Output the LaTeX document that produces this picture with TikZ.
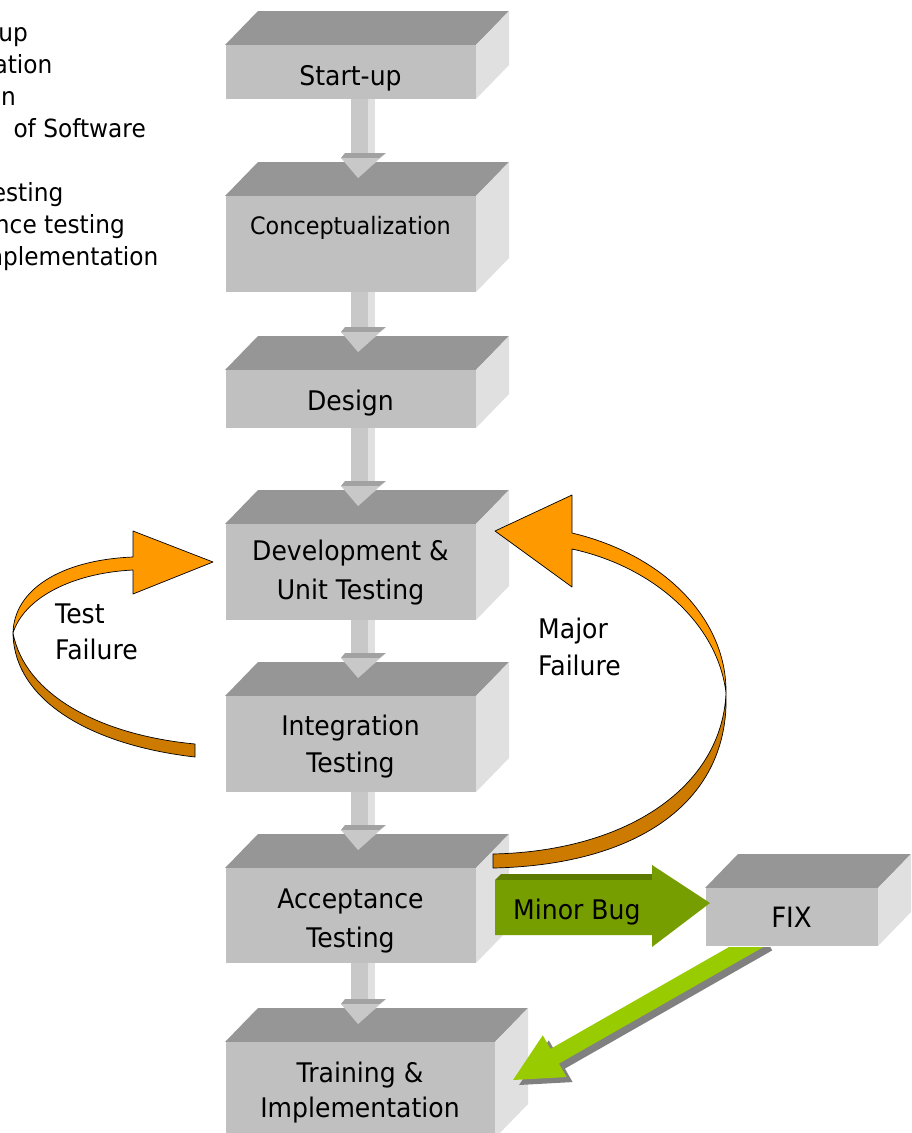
\documentclass[tikz,border=0pt]{standalone}
\usepackage{fontspec}
\setmainfont{DejaVu Sans}[FakeStretch=0.93]
\usetikzlibrary{calc}
\definecolor{topgray}{HTML}{969696}
\definecolor{frontgray}{HTML}{C0C0C0}
\definecolor{sidegray}{HTML}{E0E0E0}
\definecolor{shaftgray}{HTML}{C8C8C8}
\definecolor{bandgray}{HTML}{A2A2A2}
\definecolor{orangeF}{HTML}{FF9900}
\definecolor{orangeB}{HTML}{CC7A00}
\definecolor{greenD}{HTML}{779E00}
\definecolor{greenT}{HTML}{5C7A00}
\definecolor{greenL}{HTML}{99CC00}
\definecolor{shadowgray}{HTML}{808080}
\tikzset{
  frontbox/.style={fill=frontgray, draw=none, inner sep=0pt, outer sep=0pt},
  lbl/.style={font=\fontsize{27}{32}\selectfont, inner sep=0pt, anchor=base, text=black},
  smalllbl/.style={font=\fontsize{24}{30}\selectfont, inner sep=0pt, anchor=base, text=black},
  listtxt/.style={font=\fontsize{25}{30}\selectfont, inner sep=0pt, anchor=base east, text=black},
  ribbon/.style={draw=black, line width=0.7pt, line join=round},
}
\newcommand{\threedbox}[5]{%
  \fill[topgray] (#2,#3) -- ++(33,-34) -- ++(#4,0) -- ++(-33,34) -- cycle;
  \fill[sidegray] ({#2+#4},#3) -- ++(33,-34) -- ++(0,#5) -- ++(-33,34) -- cycle;
  \node[frontbox, minimum width=#4pt, minimum height=#5pt, anchor=north west] (#1) at (#2,#3) {};
  \draw[white, line width=0.8pt] (#1.north west) -- (#1.south west) -- (#1.south east);
}
\newcommand{\gconn}[2]{%
  \coordinate (h) at (#1.south |- #2.north);
  \fill[shaftgray] ($(#1.south)+(0.5,0)$) rectangle ($(h)+(17.5,-40)$);
  \fill[sidegray] ($(#1.south)+(17.5,0)$) rectangle ($(h)+(24.5,-40)$);
  \fill[bandgray] ($(h)+(-9.5,-38)$) -- ($(h)+(-5.5,-43)$) -- ($(h)+(35.5,-43)$) -- ($(h)+(29.5,-38)$) -- cycle;
  \fill[sidegray] ($(h)+(29.5,-38)$) -- ($(h)+(35.5,-43)$) -- ($(h)+(7.5,-18)$) -- cycle;
  \fill[shaftgray] ($(h)+(-9.5,-38)$) -- ($(h)+(29.5,-38)$) -- ($(h)+(7.5,-18)$) -- cycle;
}
\newcommand{\fatarrow}[3]{%
  \coordinate (fB) at ($(#2)!48pt!(#1)$);
  \fill[#3] ($(#1)!8.5pt!90:(#2)$) -- ($(fB)!8.5pt!90:(#2)$) -- ($(fB)!24pt!90:(#2)$) -- (#2)
    -- ($(fB)!24pt!-90:(#2)$) -- ($(fB)!8.5pt!-90:(#2)$) -- ($(#1)!8.5pt!-90:(#2)$) -- cycle;
}
\begin{document}
\begin{tikzpicture}[x=1pt,y=-1pt]
\useasboundingbox (0,0) rectangle (911,1133);
\fill[white] (0,0) rectangle (911,1133);

% clipped list at top left
\node[listtxt] (l1) at (28,41.5) {up};
\node[listtxt] (l2) at (52.5,73.5) {ation};
\node[listtxt] (l3) at (16,105.5) {gn};
\node[listtxt] (l4) at (146,137.5) {of Software};
\node[listtxt] (l5) at (63.5,201.5) {esting};
\node[listtxt] (l6) at (125,233.5) {nce testing};
\node[listtxt] (l7) at (158.5,265.5) {nplementation};

% boxes
\threedbox{start}{225}{45}{251}{54}
\threedbox{concept}{225}{196}{251}{96}
\threedbox{design}{225}{370}{251}{58}
\threedbox{dev}{225}{524}{251}{96}
\threedbox{integ}{225}{696}{251}{96}
\threedbox{accept}{225}{868}{251}{95}
\threedbox{train}{225}{1042}{270}{96}

% gray connectors
\gconn{start}{concept}
\gconn{concept}{design}
\gconn{design}{dev}
\gconn{dev}{integ}
\gconn{integ}{accept}
\gconn{accept}{train}

% green diagonal arrow FIX -> Training
\coordinate (gS) at (762,938);
\coordinate (gT) at (513,1080);
\coordinate (gS2) at (768,943);
\coordinate (gT2) at (519,1085);
\fatarrow{gS2}{gT2}{shadowgray}
\fatarrow{gS}{gT}{greenL}

% FIX box
\threedbox{fix}{705}{888}{173}{58}

% box labels
\node[lbl] (t1) at (350.5,85) {Start-up};
\node[smalllbl] (t2) at (350.5,234) {Conceptualization};
\node[lbl] (t3) at (350.5,410) {Design};
\node[lbl] (t4a) at (350.5,560) {Development \&};
\node[lbl] (t4b) at (350.5,599) {Unit Testing};
\node[lbl] (t5a) at (350.5,735) {Integration};
\node[lbl] (t5b) at (350.5,772) {Testing};
\node[lbl] (t6a) at (350.5,908) {Acceptance};
\node[lbl] (t6b) at (350.5,947) {Testing};
\node[lbl] (t7a) at (360,1082) {Training \&};
\node[lbl] (t7b) at (360,1117) {Implementation};
\node[lbl, font=\fontsize{28}{32}\selectfont] (t8) at (791.5,927) {FIX};

% Test Failure ribbon (Integration -> Development)
\filldraw[ribbon, fill=orangeB] (13,633) .. controls (14,700) and (90,745) .. (195,757)
  -- (195,744) .. controls (100,735) and (25,695) .. (13,633) -- cycle;
\filldraw[ribbon, fill=orangeF] (13,633) .. controls (14,590) and (60,560) .. (133,557)
  -- (133,531) -- (213,562) -- (133,594) -- (133,570)
  .. controls (72,573) and (24,598) .. (13,633) -- cycle;
\node[lbl, anchor=base west] (tf1) at (55,623) {Test};
\node[lbl, anchor=base west] (tf2) at (55,659) {Failure};

% Major Failure ribbon (Acceptance -> Development)
\filldraw[ribbon, fill=orangeB] (726,693) .. controls (730,800) and (640,865) .. (493,868)
  -- (493,854) .. controls (630,851) and (722,785) .. (726,693) -- cycle;
\filldraw[ribbon, fill=orangeF] (495,531) -- (572,495) -- (572,533)
  .. controls (665,555) and (727,620) .. (726,693)
  .. controls (718,625) and (655,567) .. (572,549) -- (572,587) -- cycle;
\node[lbl, anchor=base west] (mf1) at (538,638) {Major};
\node[lbl, anchor=base west] (mf2) at (538,675) {Failure};

% Minor Bug arrow (Acceptance -> FIX)
\fill[greenT] (495,880) -- (501,874) -- (652,874) -- (652,880) -- cycle;
\fill[greenD] (495,880) -- (652,880) -- (652,865) -- (710,903) -- (652,947) -- (652,935) -- (495,935) -- cycle;
\node[lbl, anchor=base west] (mb) at (513,919) {Minor Bug};
\end{tikzpicture}
\end{document}
